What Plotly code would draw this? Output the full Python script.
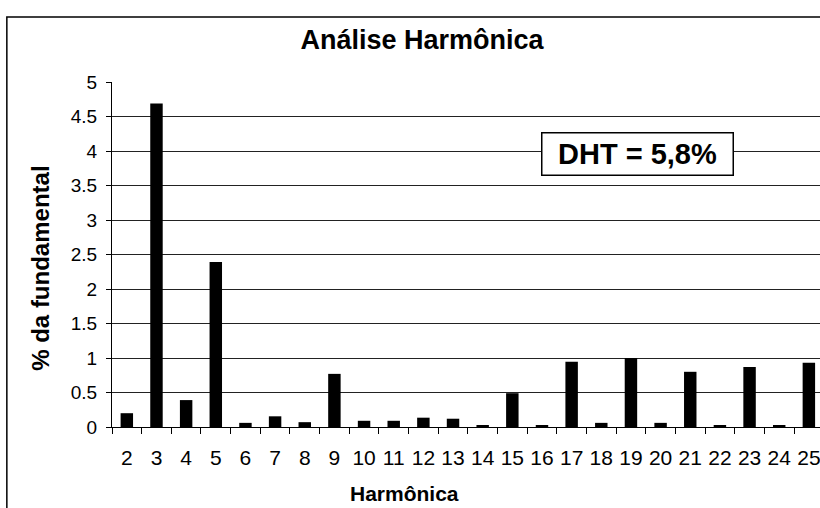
import plotly.graph_objects as go

# Harmonic order and amplitude as % of the fundamental
harmonicas = [str(h) for h in range(2, 26)]
percentual = [0.20, 4.69, 0.39, 2.39, 0.06, 0.155, 0.07, 0.77, 0.09, 0.09, 0.135, 0.12,
              0.02, 0.49, 0.02, 0.945, 0.06, 1.00, 0.06, 0.80, 0.02, 0.87, 0.02, 0.93]

y_ticks = [0, 0.5, 1, 1.5, 2, 2.5, 3, 3.5, 4, 4.5, 5]
y_tick_text = ["0", "0.5", "1", "1.5", "2", "2.5", "3", "3.5", "4", "4.5", "5"]

titulo = "Análise Harmônica"
eixo_x = "Harmônica"
eixo_y = "% da fundamental"
dht = "DHT = 5,8%"

FONT = "Arial, 'Liberation Sans', sans-serif"

W, H = 820, 508
ML, MT = 111.7, 81.7
MB = H - 427.3
PW = W - ML
PH = H - MT - MB


def px_x(p):
    return (p - ML) / PW


def px_y(p):
    return (H - MB - p) / PH


fig = go.Figure(
    go.Bar(
        x=harmonicas,
        y=percentual,
        marker=dict(color="black", line=dict(width=0)),
    )
)

fig.update_layout(
    width=W,
    height=H,
    margin=dict(l=ML, r=0, t=MT, b=MB, pad=0),
    paper_bgcolor="white",
    plot_bgcolor="white",
    bargap=0.58,
    showlegend=False,
    font=dict(family=FONT, color="black"),
    title=dict(
        text="<b>" + titulo + "</b>",
        font=dict(size=27, family=FONT, color="black"),
        x=422 / W,
        xanchor="center",
        y=1 - 40 / H,
        yanchor="middle",
        xref="container",
        yref="container",
    ),
)

fig.update_xaxes(
    type="category",
    range=[-0.5, -0.5 + 24 * (W - ML) / 712.0],
    showgrid=False,
    showline=True,
    linecolor="black",
    linewidth=1,
    ticks="outside",
    tickson="boundaries",
    ticklen=6,
    tickcolor="black",
    tickwidth=1,
    tickangle=0,
    tickfont=dict(size=21, family=FONT, color="black"),
    ticklabelstandoff=12,
    zeroline=False,
)

fig.update_yaxes(
    range=[0, 5],
    tickvals=y_ticks,
    ticktext=y_tick_text,
    showgrid=True,
    gridcolor="#222222",
    gridwidth=1,
    showline=True,
    linecolor="black",
    linewidth=1,
    ticks="outside",
    ticklen=5,
    tickcolor="black",
    tickwidth=1,
    tickfont=dict(size=19, family=FONT, color="black"),
    ticklabelstandoff=5,
    zeroline=False,
)

# Axis titles
fig.add_annotation(
    text="<b>" + eixo_x + "</b>",
    xref="paper", yref="paper",
    x=px_x(404), y=px_y(494),
    xanchor="center", yanchor="middle",
    showarrow=False,
    font=dict(size=21, family=FONT, color="black"),
)
fig.add_annotation(
    text="<b>" + eixo_y + "</b>",
    xref="paper", yref="paper",
    x=px_x(40), y=px_y(268.5),
    xanchor="center", yanchor="middle",
    textangle=-90,
    showarrow=False,
    font=dict(size=24, family=FONT, color="black"),
)

# THD callout box
fig.add_annotation(
    text="<b>" + dht + "</b>",
    xref="paper", yref="paper",
    x=px_x(637.5), y=px_y(153.7),
    xanchor="center", yanchor="middle",
    showarrow=False,
    width=188, height=39,
    bgcolor="white",
    bordercolor="black",
    borderwidth=1.5,
    borderpad=1,
    font=dict(size=29, family=FONT, color="black"),
)

# Chart-area frame (left and top edges)
fig.add_shape(
    type="path",
    xref="paper", yref="paper",
    path=f"M {px_x(6.5)},{px_y(520)} L {px_x(6.5)},{px_y(16.5)} L {px_x(830)},{px_y(16.5)}",
    line=dict(color="black", width=1.5),
    layer="above",
)

fig.write_html("out.html")
